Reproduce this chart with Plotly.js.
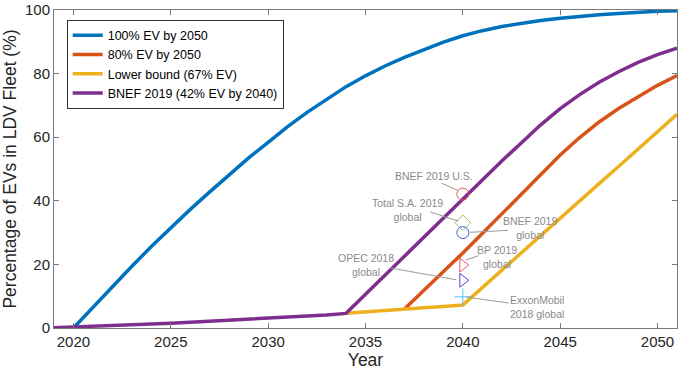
<!DOCTYPE html>
<html>
<head>
<meta charset="utf-8">
<script src="https://cdn.plot.ly/plotly-3.0.1.min.js"></script>
<style>
  html, body { margin: 0; padding: 0; background: #fff; }
  #chart { width: 680px; height: 371px; }
</style>
</head>
<body>
<div id="chart"></div>
<script>
// ---------- data ----------
const seriesNames = ["100% EV by 2050", "80% EV by 2050", "Lower bound (67% EV)", "BNEF 2019 (42% EV by 2040)"];

const yearsFull = [2020, 2021, 2022, 2023, 2024, 2025, 2026, 2027, 2028, 2029, 2030,
                   2031, 2032, 2033, 2034, 2035, 2036, 2037, 2038, 2039, 2040,
                   2041, 2042, 2043, 2044, 2045, 2046, 2047, 2048, 2049, 2050, 2051];
const ev100 = [0, 6.6, 13.1, 19.4, 25.6, 31.6, 37.3, 42.8, 48.3, 53.5, 58.4,
               63.3, 67.8, 72.0, 75.9, 79.3, 82.4, 85.1, 87.6, 89.9, 91.9,
               93.5, 94.8, 95.8, 96.7, 97.4, 98.0, 98.5, 98.9, 99.3, 99.6, 99.8];

const years80 = [2037, 2038, 2039, 2040, 2041, 2042, 2043, 2044, 2045, 2046, 2047, 2048, 2049, 2050, 2051];
const ev80 = [6.0, 11.8, 17.7, 23.6, 29.7, 35.9, 42.1, 48.3, 54.4, 59.9, 64.8, 69.0, 72.8, 76.3, 79.4];

const yearsLow = [2034, 2035, 2036, 2037, 2038, 2039, 2040, 2041, 2042, 2043, 2044, 2045, 2046, 2047, 2048, 2049, 2050, 2051];
const evLow = [4.6, 5.1, 5.6, 6.0, 6.4, 6.8, 7.2, 12.7, 18.2, 23.7, 29.2, 34.6, 40.0, 45.4, 50.8, 56.3, 61.8, 67.2];

const yearsBnef = [2019, 2020, 2021, 2022, 2023, 2024, 2025, 2026, 2027, 2028, 2029, 2030,
                   2031, 2032, 2033, 2034, 2035, 2036, 2037, 2038, 2039, 2040,
                   2041, 2042, 2043, 2044, 2045, 2046, 2047, 2048, 2049, 2050, 2051];
const evBnef = [0.1, 0.3, 0.5, 0.8, 1.0, 1.3, 1.5, 1.8, 2.1, 2.4, 2.7, 3.0,
                3.3, 3.7, 4.1, 4.6, 10.6, 16.6, 22.6, 28.6, 34.6, 40.6,
                46.6, 52.5, 58.2, 63.9, 69.0, 73.4, 77.3, 80.6, 83.5, 86.0, 88.0];

// point forecasts for 2040
const forecastLabels = ["BNEF 2019 U.S.", "Total S.A. 2019<br>global", "BNEF 2019<br>global",
                        "BP 2019<br>global", "OPEC 2018<br>global", "ExxonMobil<br>2018 global"];
const forecastYears = [2040, 2040, 2040, 2040, 2040, 2040];
const forecastValues = [42.1, 33.1, 30.0, 19.8, 15.0, 9.8];

const xTickVals = [2020, 2025, 2030, 2035, 2040, 2045, 2050];
const yTickVals = [0, 20, 40, 60, 80, 100];

// ---------- styling ----------
const lineColors = ["#0072BD", "#D95319", "#EDB120", "#7E2F8E"];
const markerSymbols = ["circle-open", "diamond-open", "circle-open", "triangle-right-open", "triangle-right-open", "cross-thin-open"];
const markerColors = ["#ee4444", "#88c040", "#3344dd", "#ee4455", "#3333dd", "#44bbee"];

const font = "Liberation Sans, Arial, Helvetica, sans-serif";
const lw = 3.5;

const traces = [
  {x: yearsFull, y: ev100, name: seriesNames[0], mode: "lines", line: {color: lineColors[0], width: lw}},
  {x: years80, y: ev80, name: seriesNames[1], mode: "lines", line: {color: lineColors[1], width: lw}},
  {x: yearsLow, y: evLow, name: seriesNames[2], mode: "lines", line: {color: lineColors[2], width: lw}},
  {x: yearsBnef, y: evBnef, name: seriesNames[3], mode: "lines", line: {color: lineColors[3], width: lw}}
];
for (let i = 0; i < forecastValues.length; i++) {
  traces.push({
    x: [forecastYears[i]], y: [forecastValues[i]], mode: "markers", showlegend: false,
    marker: {symbol: markerSymbols[i], size: 12, color: markerColors[i], line: {color: markerColors[i], width: 0.9}}
  });
}

// label centres and leader lines (annotation layout, data units)
const labelPos = [[2038.53, 47.9], [2037.17, 37.1], [2043.45, 31.3], [2041.73, 22.3], [2035.02, 19.8], [2043.83, 6.6]];
const leaders = [
  [2038.92, 45.5, 2039.76, 43.25],
  [2038.32, 36.5, 2039.77, 33.6],
  [2040.37, 30.1, 2042.32, 30.7],
  [2040.17, 21.4, 2040.80, 22.7],
  [2036.27, 18.9, 2039.66, 15.15],
  [2040.17, 9.74, 2042.34, 7.87]
];

const annotations = forecastLabels.map((t, i) => ({
  x: labelPos[i][0], y: labelPos[i][1], xref: "x", yref: "y", text: t, showarrow: false,
  font: {family: font, size: 10.5, color: "#8a8a8a"}, align: "center", xanchor: "center", yanchor: "middle"
}));
const shapes = leaders.map(l => ({
  type: "line", xref: "x", yref: "y", x0: l[0], y0: l[1], x1: l[2], y1: l[3],
  line: {color: "#9a9a9a", width: 1}
}));

const axisCommon = {
  showgrid: false, zeroline: false, showline: true, linecolor: "#7a7a7a", linewidth: 1,
  mirror: "ticks", ticks: "inside", ticklen: 5, tickcolor: "#7a7a7a", tickwidth: 1,
  ticklabeloverflow: "allow",
  tickfont: {family: font, size: 15, color: "#262626"}
};

const layout = {
  width: 680, height: 371,
  margin: {l: 54, r: 3, t: 10, b: 43},
  paper_bgcolor: "#ffffff", plot_bgcolor: "#ffffff",
  font: {family: font},
  showlegend: true,
  legend: {
    x: 0.0204, y: 0.97, xanchor: "left", yanchor: "top",
    bgcolor: "#ffffff", bordercolor: "#333333", borderwidth: 1,
    font: {family: font, size: 12.5, color: "#000000"},
    itemwidth: 30, tracegroupgap: 0
  },
  xaxis: Object.assign({}, axisCommon, {
    range: [2019, 2051], tickvals: xTickVals,
    title: {text: "Year", font: {family: font, size: 17.5, color: "#262626"}, standoff: 2}
  }),
  yaxis: Object.assign({}, axisCommon, {
    range: [0, 100], tickvals: yTickVals,
    title: {text: "Percentage of EVs in LDV Fleet (%)", font: {family: font, size: 17.5, color: "#262626"}, standoff: 6}
  }),
  annotations: annotations,
  shapes: shapes
};

Plotly.newPlot("chart", traces, layout, {displayModeBar: false, responsive: false});
</script>
</body>
</html>
